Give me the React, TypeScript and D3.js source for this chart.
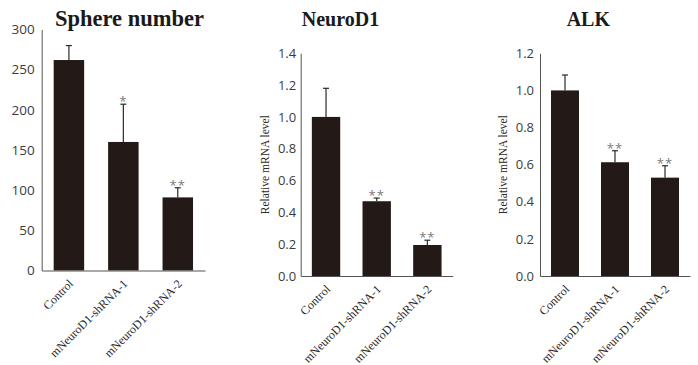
import React, { useEffect, useRef } from 'react';
import * as d3 from 'd3';

// groups shared by all three panels
const categories = ['Control', 'mNeuroD1-shRNA-1', 'mNeuroD1-shRNA-2'];

// Sphere number
const sphereValues = [262, 160, 91];
const sphereErrors = [18, 47, 12];
const sphereSig = ['', '*', '**'];
const sphereTicks = [0, 50, 100, 150, 200, 250, 300];

// NeuroD1 relative mRNA
const neuroValues = [1.0, 0.47, 0.195];
const neuroErrors = [0.18, 0.02, 0.03];
const neuroSig = ['', '**', '**'];
const neuroTicks = [0, 0.2, 0.4, 0.6, 0.8, 1.0, 1.2, 1.4];

// ALK relative mRNA
const alkValues = [1.0, 0.613, 0.53];
const alkErrors = [0.083, 0.062, 0.064];
const alkSig = ['', '**', '**'];
const alkTicks = [0, 0.2, 0.4, 0.6, 0.8, 1.0, 1.2];

const BAR = '#231916';
const SERIF = '"Liberation Serif", "Times New Roman", serif';
const SANS = '"Open Sans", "Noto Sans", sans-serif';

const panels = [
  {
    title: 'Sphere number', values: sphereValues, errors: sphereErrors, sig: sphereSig, ticks: sphereTicks,
    fmt: d3.format('d'), yLabel: '', left: 41.7, right: 205, top: 29.5, bottom: 270.5,
    titleX: 129.5, titleSize: 22.5, tickSize: 13.5, tickPad: 7, labelX: 0,
  },
  {
    title: 'NeuroD1', values: neuroValues, errors: neuroErrors, sig: neuroSig, ticks: neuroTicks,
    fmt: d3.format('.1f'), yLabel: 'Relative mRNA level', left: 300.7, right: 452.7, top: 53.3, bottom: 276,
    titleX: 340.5, titleSize: 20, tickSize: 13, tickPad: 4.5, labelX: 264.5,
  },
  {
    title: 'ALK', values: alkValues, errors: alkErrors, sig: alkSig, ticks: alkTicks,
    fmt: d3.format('.1f'), yLabel: 'Relative mRNA level', left: 540, right: 690, top: 53.3, bottom: 276,
    titleX: 588.3, titleSize: 20, tickSize: 13, tickPad: 6, labelX: 502.5,
  },
];

export default function App() {
  const ref = useRef<SVGSVGElement>(null);

  useEffect(() => {
    const svg = d3.select(ref.current);
    svg.selectAll('*').remove();

    panels.forEach((p) => {
      const g = svg.append('g');
      const x = d3.scaleBand<string>().domain(categories).range([p.left, p.right])
        .paddingInner(0.44).paddingOuter(0.22);
      const y = d3.scaleLinear().domain([0, d3.max(p.ticks) as number]).range([p.bottom, p.top]);

      // bars
      g.selectAll('rect.bar').data(p.values).enter().append('rect')
        .attr('class', 'bar')
        .attr('x', (d, i) => x(categories[i]) as number)
        .attr('y', (d) => y(d))
        .attr('width', x.bandwidth())
        .attr('height', (d) => y(0) - y(d))
        .attr('fill', BAR);

      // upper error bars
      const cx = (i: number) => (x(categories[i]) as number) + x.bandwidth() / 2;
      const errs = g.selectAll('g.err').data(p.values).enter().append('g').attr('class', 'err');
      errs.append('line')
        .attr('x1', (d, i) => cx(i)).attr('x2', (d, i) => cx(i))
        .attr('y1', (d) => y(d)).attr('y2', (d, i) => y(d + p.errors[i]))
        .attr('stroke', '#2a2a2a').attr('stroke-width', 1.2);
      errs.append('line')
        .attr('x1', (d, i) => cx(i) - 3).attr('x2', (d, i) => cx(i) + 3)
        .attr('y1', (d, i) => y(d + p.errors[i])).attr('y2', (d, i) => y(d + p.errors[i]))
        .attr('stroke', '#2a2a2a').attr('stroke-width', 1.2);

      // significance marks
      g.selectAll('text.sig').data(p.values).enter().append('text')
        .attr('class', 'sig')
        .attr('x', (d, i) => cx(i))
        .attr('y', (d, i) => y(d + p.errors[i]) + 2)
        .attr('text-anchor', 'middle')
        .attr('font-family', SANS)
        .attr('font-size', 13)
        .attr('letter-spacing', 1)
        .attr('fill', '#7a7a7a')
        .text((d, i) => p.sig[i]);

      // y axis
      const yAxis = g.append('g')
        .attr('transform', `translate(${p.left},0)`)
        .call(d3.axisLeft(y).tickValues(p.ticks).tickFormat(p.fmt as any).tickSize(0).tickPadding(p.tickPad));
      yAxis.select('.domain').attr('stroke', '#555');
      yAxis.selectAll('text').attr('font-family', SANS).attr('font-size', p.tickSize).attr('fill', '#3c3c3c');

      // x axis
      const xAxis = g.append('g')
        .attr('transform', `translate(0,${p.bottom})`)
        .call(d3.axisBottom(x).tickSize(0).tickSizeOuter(0));
      xAxis.select('.domain').attr('stroke', '#555');
      xAxis.selectAll('text')
        .attr('y', 0).attr('dy', 0).attr('x', 0)
        .attr('text-anchor', 'end')
        .attr('transform', 'translate(5,14) rotate(-45)')
        .attr('font-family', SERIF)
        .attr('font-size', 12)
        .attr('fill', '#2a2a2a');

      // title
      g.append('text')
        .attr('x', p.titleX).attr('y', 26)
        .attr('text-anchor', 'middle')
        .attr('font-family', SERIF).attr('font-weight', 'bold')
        .attr('font-size', p.titleSize).attr('fill', '#1a1a1a')
        .text(p.title);

      // y label
      if (p.yLabel) {
        const my = (p.top + p.bottom) / 2;
        g.append('text')
          .attr('transform', `translate(${p.labelX + 4},${my}) rotate(-90)`)
          .attr('text-anchor', 'middle')
          .attr('font-family', SERIF).attr('font-size', 11.5).attr('fill', '#2a2a2a')
          .text(p.yLabel);
      }
    });
  }, []);

  return (
    <svg ref={ref} width={698} height={365}
      style={{ position: 'absolute', left: 0, top: 0, background: '#fff' }} />
  );
}
